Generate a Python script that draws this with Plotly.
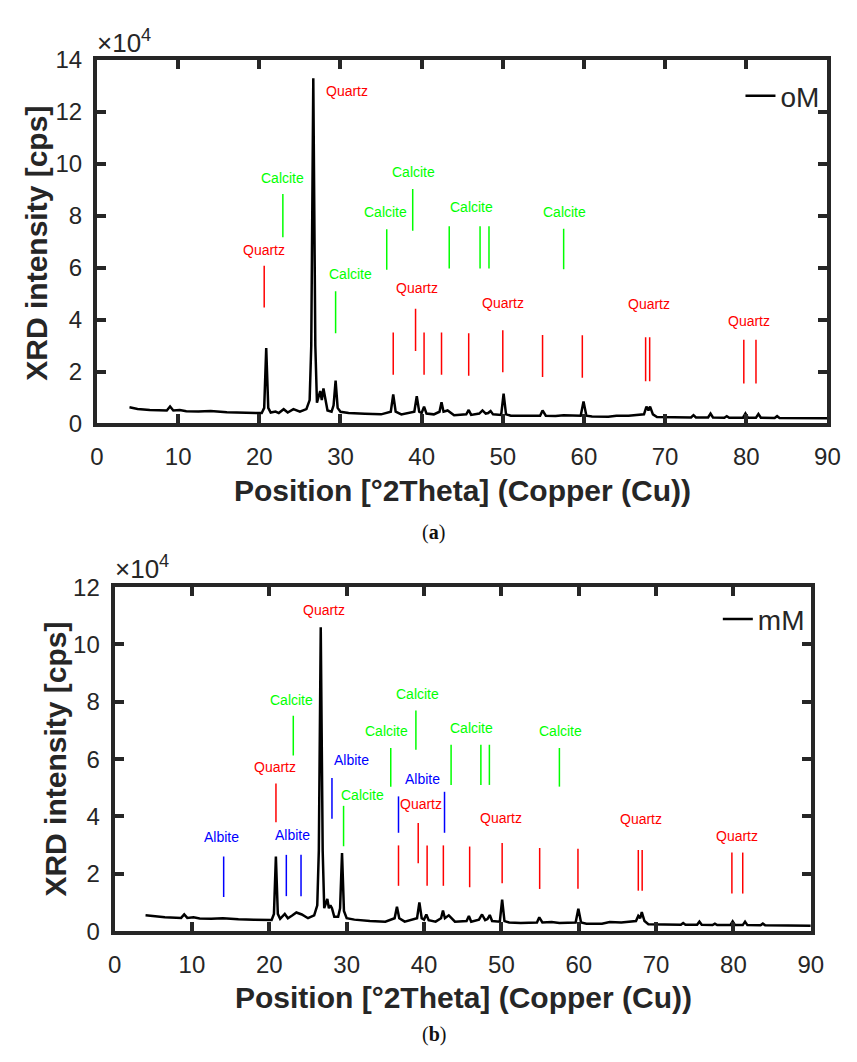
import plotly.graph_objects as go

# ---------------- data ----------------
two_theta = [4.0, 5.0, 6.5, 8.6, 9.0, 9.4, 10.2, 11.0, 12.5, 14.0, 16.0, 18.0, 20.3, 20.6, 20.85, 21.1, 21.4,
             22.0, 22.4, 23.0, 23.5, 24.2, 25.0, 25.8, 26.2, 26.4, 26.65, 26.9, 27.1, 27.5, 27.7, 27.9, 28.1,
             28.4, 28.9, 29.15, 29.4, 29.65, 30.0, 31.0, 33.0, 35.0, 36.2, 36.5, 36.8, 37.5, 39.1, 39.4, 39.7,
             40.0, 40.3, 40.6, 41.5, 42.2, 42.45, 42.7, 43.2, 44.0, 45.5, 45.8, 46.1, 47.1, 47.5, 47.9, 48.2,
             48.5, 48.8, 49.8, 50.1, 50.4, 51.0, 52.5, 54.6, 54.9, 55.3, 56.5, 57.5, 59.6, 59.95, 60.3, 61.0,
             63.0, 64.0, 65.5, 67.4, 67.7, 67.95, 68.15, 68.5, 69.0, 71.0, 73.2, 73.5, 73.8, 75.3, 75.6, 75.9,
             77.3, 77.6, 77.9, 79.6, 79.9, 80.2, 81.2, 81.5, 81.8, 83.5, 83.8, 84.1, 86.0, 88.0, 90.0]

intensity_oM = [6200, 5600, 5200, 5000, 6500, 5000, 5200, 4700, 4600, 4800, 4300, 4100, 4000, 6000, 29000, 6000, 4200,
                4600, 4000, 5500, 4200, 5500, 4500, 5500, 9000, 30000, 133000, 30000, 8000, 12500, 9000, 13500, 10000,
                5000, 4500, 7000, 16500, 6000, 4500, 4000, 3700, 3500, 4500, 11200, 4500, 3500, 4500, 10500, 4500,
                4000, 6500, 3800, 3500, 4500, 8200, 4500, 5000, 3200, 3500, 5200, 3300, 3800, 5000, 3800, 4000,
                4800, 3500, 3300, 11500, 3500, 3000, 2900, 3000, 5000, 3000, 2900, 3200, 3000, 8500, 3000, 2700,
                2600, 3000, 3000, 3500, 6500, 5000, 6500, 3500, 2500, 2300, 2300, 3200, 2300, 2300, 3800, 2300,
                2200, 2800, 2200, 2200, 3800, 2200, 2200, 3600, 2200, 2100, 2800, 2100, 2000, 2000, 2000]

intensity_mM = [5500, 5200, 4800, 4600, 5800, 4600, 4800, 4400, 4300, 4500, 4100, 4000, 3900, 6000, 26000, 6000, 4300,
                6000, 4500, 5500, 6500, 5800, 4500, 5500, 9000, 28000, 106000, 28000, 8000, 11200, 8000, 9000, 8000,
                5000, 5000, 8000, 27200, 7000, 4500, 4000, 3500, 3300, 4500, 8500, 4500, 3300, 4500, 10000, 4500,
                4000, 5800, 3800, 3300, 4500, 7200, 4500, 5500, 3300, 3500, 5300, 3300, 4000, 5800, 3800, 4200,
                5600, 3500, 3300, 11000, 3500, 3000, 2800, 3000, 4800, 3000, 3200, 2800, 3000, 7800, 3000, 2600,
                2600, 3200, 3000, 3500, 5300, 4500, 6600, 3500, 2400, 2200, 2200, 2800, 2200, 2200, 3300, 2200,
                2100, 2600, 2100, 2100, 3400, 2100, 2100, 3300, 2100, 2000, 2600, 2000, 1900, 1900, 1900]

# reference-line markers (position, low, high) -- panel (a) oM
quartz_pos_a = [20.6, 36.5, 39.25, 40.3, 42.45, 45.8, 50.0, 54.9, 59.8, 67.6, 68.1, 79.7, 81.2]
quartz_lo_a = [44700, 18800, 27900, 18800, 18800, 18400, 19700, 17900, 17600, 16300, 16300, 15400, 15400]
quartz_hi_a = [60700, 35000, 44200, 35000, 35000, 34700, 35900, 34100, 34000, 33200, 33200, 32200, 32200]
quartz_lbl_x_a = [30.8, 20.6, 39.4, 50.0, 68.0, 80.3]
quartz_lbl_y_a = [128000, 67000, 52200, 46500, 46000, 39300]

calcite_pos_a = [22.9, 29.4, 35.7, 38.9, 43.4, 47.2, 48.3, 57.5]
calcite_lo_a = [71700, 34700, 59200, 74200, 59700, 59700, 59700, 59400]
calcite_hi_a = [88400, 50900, 74800, 90300, 76000, 76000, 76000, 75000]
calcite_lbl_x_a = [22.9, 31.2, 35.5, 39.0, 46.1, 57.6]
calcite_lbl_y_a = [94400, 57600, 81600, 97000, 83200, 81600]

# panel (b) mM
quartz_pos_b = [20.86, 36.7, 39.25, 40.4, 42.5, 45.9, 50.1, 54.95, 59.9, 67.7, 68.2, 79.8, 81.2]
quartz_lo_b = [38000, 15800, 23700, 15800, 15800, 15300, 16700, 14700, 14800, 14100, 14100, 13100, 13100]
quartz_hi_b = [51500, 29900, 37700, 29900, 29900, 29500, 30700, 29000, 28700, 28300, 28300, 27400, 27400]
quartz_lbl_x_b = [27.1, 20.8, 39.6, 50.0, 68.1, 80.4]
quartz_lbl_y_b = [112000, 57100, 44400, 39400, 39000, 33300]

calcite_pos_b = [23.1, 29.6, 35.7, 38.95, 43.5, 47.35, 48.45, 57.5]
calcite_lo_b = [61300, 29600, 50400, 63300, 51000, 51000, 51000, 50400]
calcite_hi_b = [75100, 43700, 63900, 77000, 65000, 65000, 65000, 63900]
calcite_lbl_x_b = [22.9, 32.0, 35.2, 39.1, 46.1, 57.7]
calcite_lbl_y_b = [80700, 47600, 69700, 82600, 70900, 69700]

albite_pos_b = [14.1, 22.2, 24.1, 28.1, 36.7, 42.65]
albite_lo_b = [11900, 12200, 12200, 39200, 34300, 34300]
albite_hi_b = [26000, 26600, 26600, 53400, 47000, 48600]
albite_lbl_x_b = [13.8, 23.0, 30.6, 39.8]
albite_lbl_y_b = [32700, 33600, 59700, 52900]

x_ticks = [0, 10, 20, 30, 40, 50, 60, 70, 80, 90]
y_ticks_a = [0, 20000, 40000, 60000, 80000, 100000, 120000, 140000]
y_ticks_b = [0, 20000, 40000, 60000, 80000, 100000, 120000]

# ---------------- layout helpers ----------------
# the page body has an 8px margin, so the figure is drawn 8px right and down
OFF = 8
W, H = 857 - OFF, 1062 - OFF
def px(x):
    return (x - OFF) / W
def py(y):
    return 1 - (y - OFF) / H

RED, GREEN, BLUE = "#ff0000", "#00ff00", "#0000ff"
TXT = "#262626"
FONT = "Liberation Sans, Arial, sans-serif"

fig = go.Figure()

fig.add_trace(go.Scatter(x=two_theta, y=intensity_oM, mode="lines", name="oM",
                         line=dict(color="black", width=2.5), xaxis="x", yaxis="y", legend="legend"))
fig.add_trace(go.Scatter(x=two_theta, y=intensity_mM, mode="lines", name="mM",
                         line=dict(color="black", width=2.5), xaxis="x2", yaxis="y2", legend="legend2"))

def seg(pos, lo, hi):
    xs, ys = [], []
    for p, a, b in zip(pos, lo, hi):
        xs += [p, p, None]
        ys += [a, b, None]
    return xs, ys

for pos, lo, hi, col, xa, ya in [
    (quartz_pos_a, quartz_lo_a, quartz_hi_a, RED, "x", "y"),
    (calcite_pos_a, calcite_lo_a, calcite_hi_a, GREEN, "x", "y"),
    (quartz_pos_b, quartz_lo_b, quartz_hi_b, RED, "x2", "y2"),
    (calcite_pos_b, calcite_lo_b, calcite_hi_b, GREEN, "x2", "y2"),
    (albite_pos_b, albite_lo_b, albite_hi_b, BLUE, "x2", "y2"),
]:
    xs, ys = seg(pos, lo, hi)
    fig.add_trace(go.Scatter(x=xs, y=ys, mode="lines", line=dict(color=col, width=1.5),
                             showlegend=False, hoverinfo="skip", xaxis=xa, yaxis=ya))

annotations = []
def add_labels(xs, ys, text, col, xr, yr):
    for x, y in zip(xs, ys):
        annotations.append(dict(x=x, y=y, xref=xr, yref=yr, text=text, showarrow=False,
                                font=dict(family=FONT, size=14, color=col),
                                xanchor="center", yanchor="middle"))

add_labels(quartz_lbl_x_a, quartz_lbl_y_a, "Quartz", RED, "x", "y")
add_labels(calcite_lbl_x_a, calcite_lbl_y_a, "Calcite", GREEN, "x", "y")
add_labels(quartz_lbl_x_b, quartz_lbl_y_b, "Quartz", RED, "x2", "y2")
add_labels(calcite_lbl_x_b, calcite_lbl_y_b, "Calcite", GREEN, "x2", "y2")
add_labels(albite_lbl_x_b, albite_lbl_y_b, "Albite", BLUE, "x2", "y2")

# axis titles, exponent labels, captions
def txt(x, y, text, size, xanchor="center", yanchor="middle", angle=0, family=FONT, color=TXT):
    annotations.append(dict(x=px(x), y=py(y), xref="paper", yref="paper", text=text, showarrow=False,
                            font=dict(family=family, size=size, color=color),
                            xanchor=xanchor, yanchor=yanchor, textangle=angle))

txt(466, 489, "<b>Position [°2Theta] (Copper (Cu))</b>", 30)
txt(467, 1009, "<b>Position [°2Theta] (Copper (Cu))</b>", 30)
txt(30, 235, "<b>XRD intensity [cps]</b>", 30, angle=-90)
txt(50, 765, "<b>XRD intensity [cps]</b>", 30, angle=-90)
txt(90, 47, "×10<sup>4</sup>", 26, xanchor="left", yanchor="bottom")
txt(108, 587, "×10<sup>4</sup>", 26, xanchor="left", yanchor="bottom")
txt(437, 532, "(<b>a</b>)", 20, family="Liberation Serif, Times New Roman, serif", color="#111111")
txt(437, 1047, "(<b>b</b>)", 20, family="Liberation Serif, Times New Roman, serif", color="#111111")

axis_common = dict(showgrid=False, zeroline=False, showline=True, linecolor=TXT, linewidth=4,
                   mirror="ticks", ticks="inside", ticklen=9, tickwidth=3.5, tickcolor=TXT,
                   tickfont=dict(family=FONT, size=24, color=TXT))

fig.update_layout(
    width=W, height=H, margin=dict(l=0, r=0, t=0, b=0),
    paper_bgcolor="white", plot_bgcolor="white",
    xaxis=dict(axis_common, domain=[px(92), px(840)], range=[0, 90], tickvals=x_ticks,
               ticktext=[str(v) for v in x_ticks], anchor="y", ticklabelstandoff=9),
    yaxis=dict(axis_common, domain=[py(420), py(47)], range=[0, 140000], tickvals=y_ticks_a,
               ticktext=[str(v // 10000) for v in y_ticks_a], anchor="x", ticklabelstandoff=6),
    xaxis2=dict(axis_common, domain=[px(110), px(823)], range=[0, 90], tickvals=x_ticks,
                ticktext=[str(v) for v in x_ticks], anchor="y2", ticklabelstandoff=9),
    yaxis2=dict(axis_common, domain=[py(941), py(588)], range=[0, 120000], tickvals=y_ticks_b,
                ticktext=[str(v // 10000) for v in y_ticks_b], anchor="x2", ticklabelstandoff=6),
    legend=dict(x=px(837), y=py(84), xanchor="right", yanchor="middle", bgcolor="rgba(0,0,0,0)",
                font=dict(family=FONT, size=28, color=TXT)),
    legend2=dict(x=px(822), y=py(621), xanchor="right", yanchor="middle", bgcolor="rgba(0,0,0,0)",
                 font=dict(family=FONT, size=28, color=TXT)),
    annotations=annotations,
    showlegend=True,
)

fig.write_html("out.html")
